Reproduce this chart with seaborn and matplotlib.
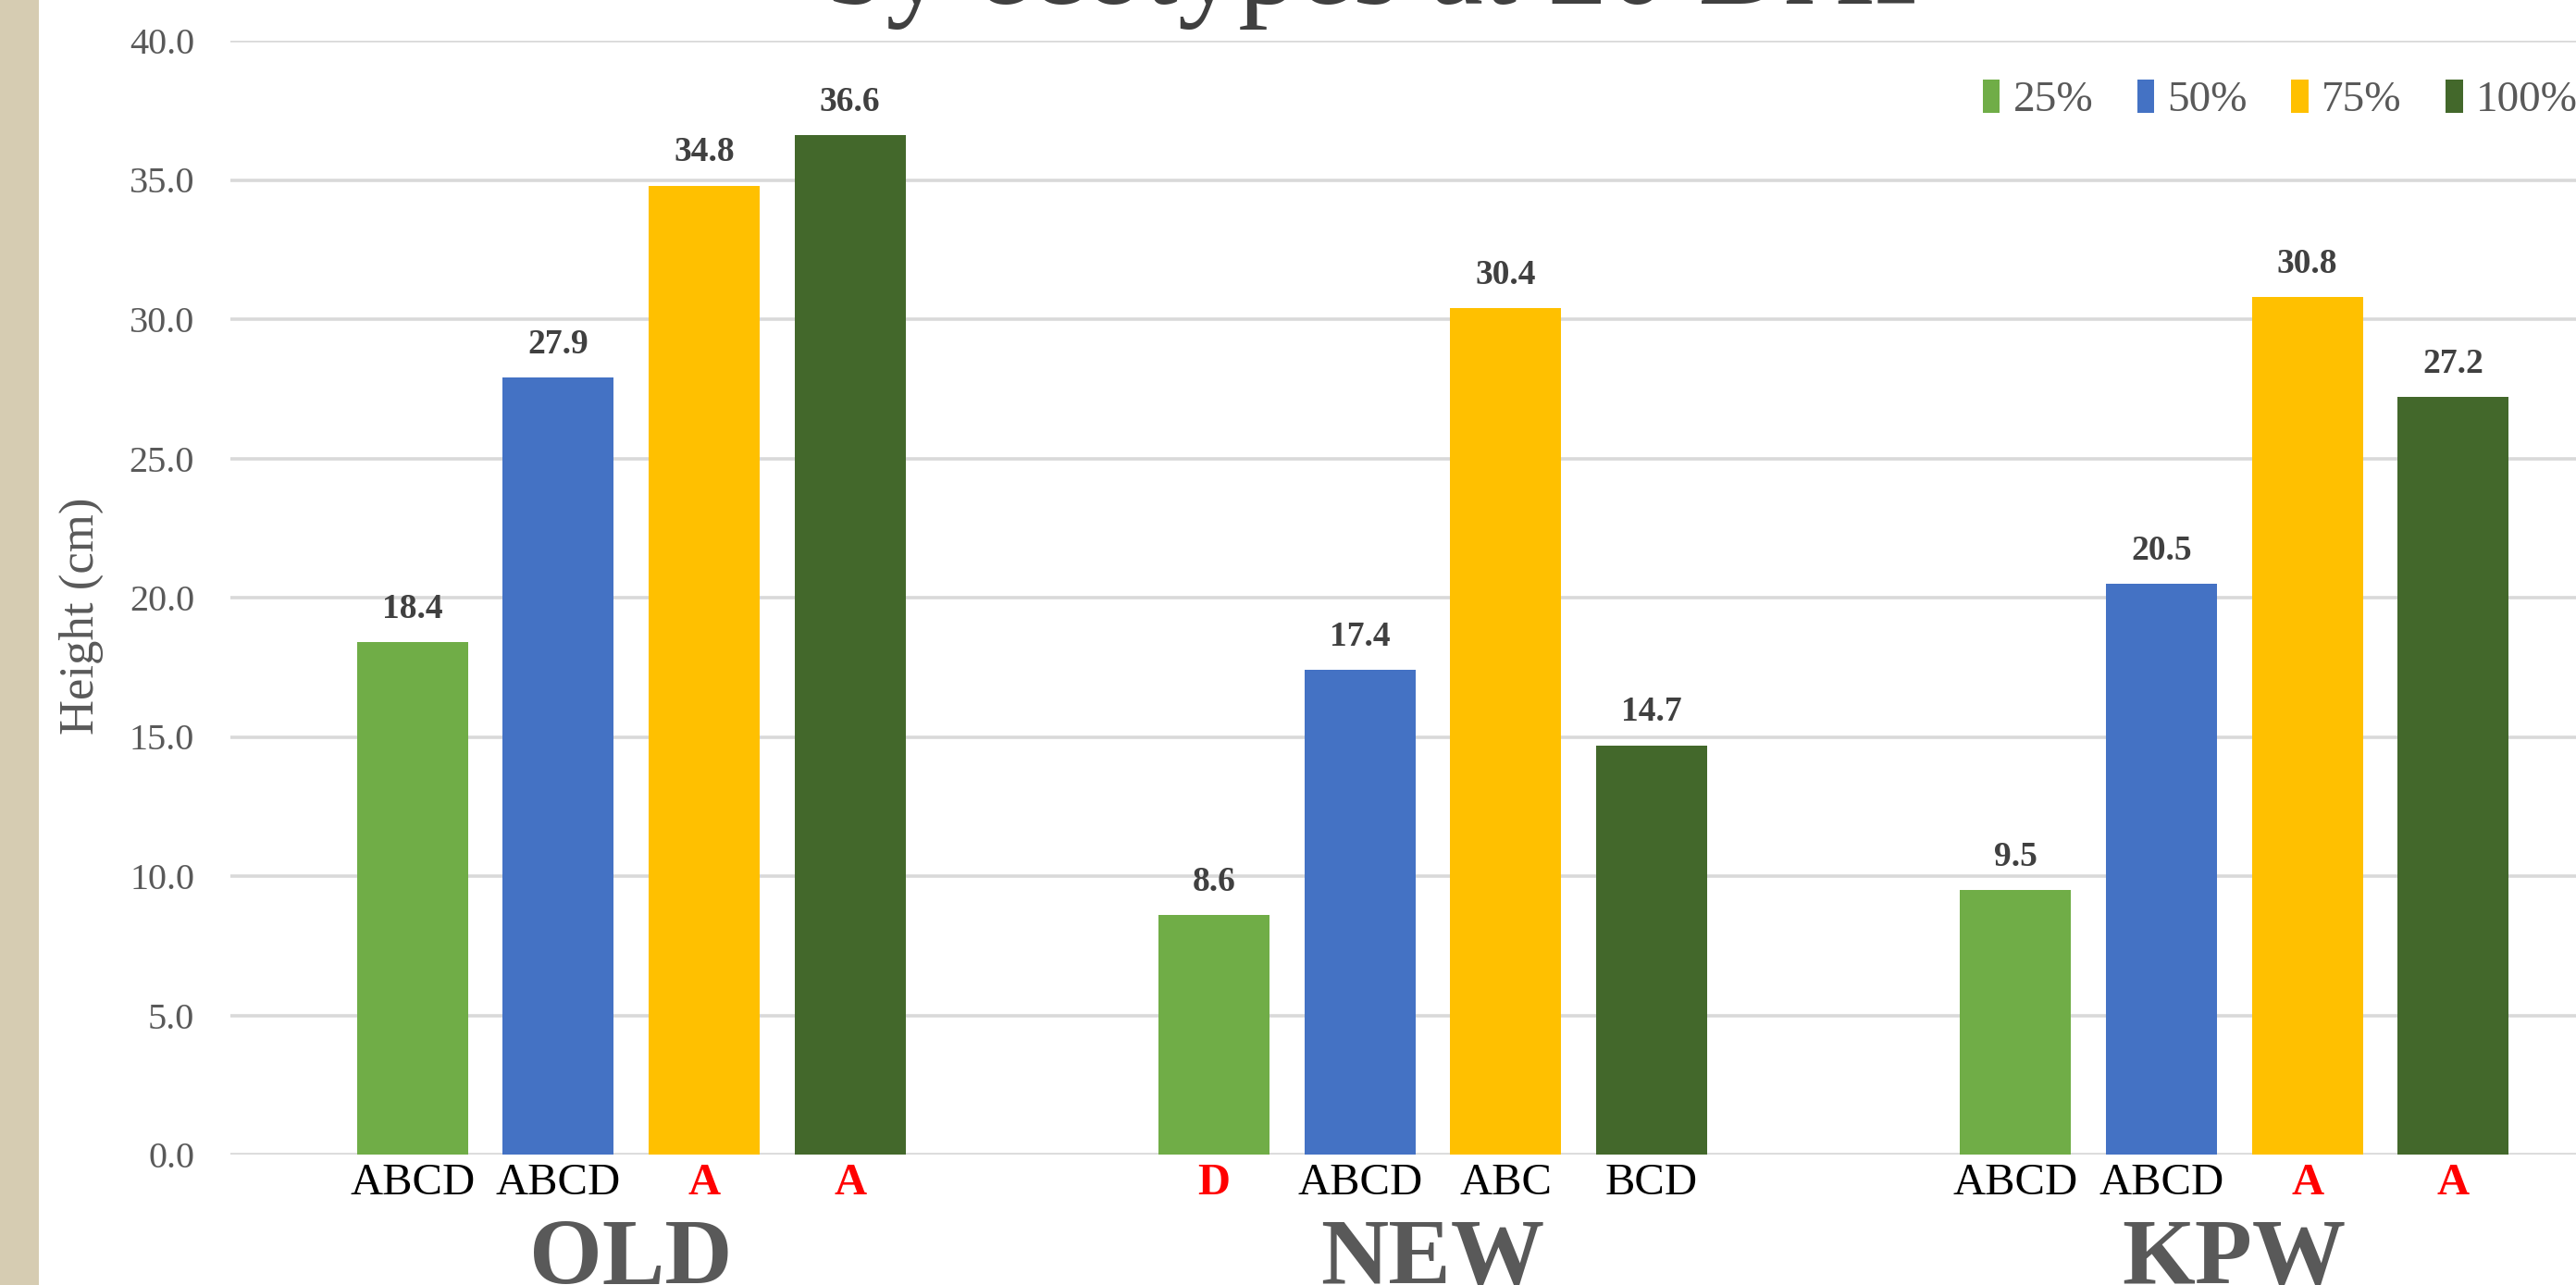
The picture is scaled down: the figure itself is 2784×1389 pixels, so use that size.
import matplotlib
matplotlib.use("Agg")
import matplotlib.pyplot as plt
import seaborn as sns
import pandas as pd
from matplotlib.patches import Rectangle

# Data
ecotypes = ["OLD", "NEW", "KPW"]
doses = ["25%", "50%", "75%", "100%"]
h25 = [18.4, 8.6, 9.5]
h50 = [27.9, 17.4, 20.5]
h75 = [34.8, 30.4, 30.8]
h100 = [36.6, 14.7, 27.2]
sig25 = ["ABCD", "D", "ABCD"]
sig50 = ["ABCD", "ABCD", "ABCD"]
sig75 = ["A", "ABC", "A"]
sig100 = ["A", "BCD", "A"]
dose_colors = ["#70AD47", "#4472C4", "#FFC000", "#43682B"]

df = pd.DataFrame({
    "ecotype": ecotypes * 4,
    "dose": [d for d in doses for _ in ecotypes],
    "height": h25 + h50 + h75 + h100,
})
letters = [sig25, sig50, sig75, sig100]

sns.set_style("white")
plt.rcParams["font.family"] = ["Liberation Serif", "DejaVu Serif"]

W, H = 2784, 1389
fig = plt.figure(figsize=(W / 100, H / 100), dpi=100)
ax = fig.add_axes([249 / W, 1 - 1248 / H, (2848 - 249) / W, (1248 - 44) / H])

sns.barplot(data=df, x="ecotype", y="height", hue="dose", order=ecotypes,
            hue_order=doses, palette=dose_colors, saturation=1, width=0.728,
            gap=0.24, errorbar=None, linewidth=0, ax=ax, zorder=3)

ax.set_xlim(-0.5, 2.5)
ax.set_ylim(0, 40)
ax.set_yticks(range(0, 41, 5))
ax.set_yticklabels([f"{v:.1f}" for v in range(0, 41, 5)])
ax.yaxis.grid(True, color="#D9D9D9", linewidth=2.6, zorder=0)
ax.set_axisbelow(True)
for s in ax.spines.values():
    s.set_visible(False)
ax.tick_params(axis="y", length=0, pad=28, labelsize=29, labelcolor="#595959")
ax.tick_params(axis="x", length=0, pad=50, labelsize=73, labelcolor="#595959")
for t in ax.get_xticklabels():
    t.set_fontweight("bold")
ax.set_xlabel("")
ax.set_ylabel("Height (cm)", fontsize=38, color="#595959")
ax.yaxis.set_label_coords(112 / W, 1 - 666 / H, transform=fig.transFigure)

# value labels and significance letters
for cont, lets in zip(ax.containers, letters):
    ax.bar_label(cont, fmt="%.1f", padding=13, fontsize=27,
                 fontweight="bold", color="#404040")
    for bar, let in zip(cont, lets):
        red = len(let) == 1
        ax.annotate(let, (bar.get_x() + bar.get_width() / 2, 0),
                    xytext=(0, -31), textcoords="offset points",
                    ha="center", va="baseline", fontsize=35,
                    color="red" if red else "black",
                    fontweight="bold" if red else "normal",
                    annotation_clip=False)

handles, labels = ax.get_legend_handles_labels()
ax.legend(handles, labels, ncol=4, loc="center left",
          bbox_to_anchor=(2100 / W, 1 - 108 / H), bbox_transform=fig.transFigure,
          frameon=False, fontsize=34, handlelength=0.4, handleheight=0.8,
          handletextpad=0.3, columnspacing=1.0, labelcolor="#595959")

# beige strip on the left and cut-off title
fig.patches.append(Rectangle((0, 0), 42 / W, 1, transform=fig.transFigure,
                             facecolor="#D6CCB2", edgecolor="none"))
fig.text(1491 / W, 1 - 4 / H, "by ecotypes at 20 DAT", ha="center",
         va="baseline", fontsize=94, color="#404040")

fig.savefig("out.png", dpi=100)
